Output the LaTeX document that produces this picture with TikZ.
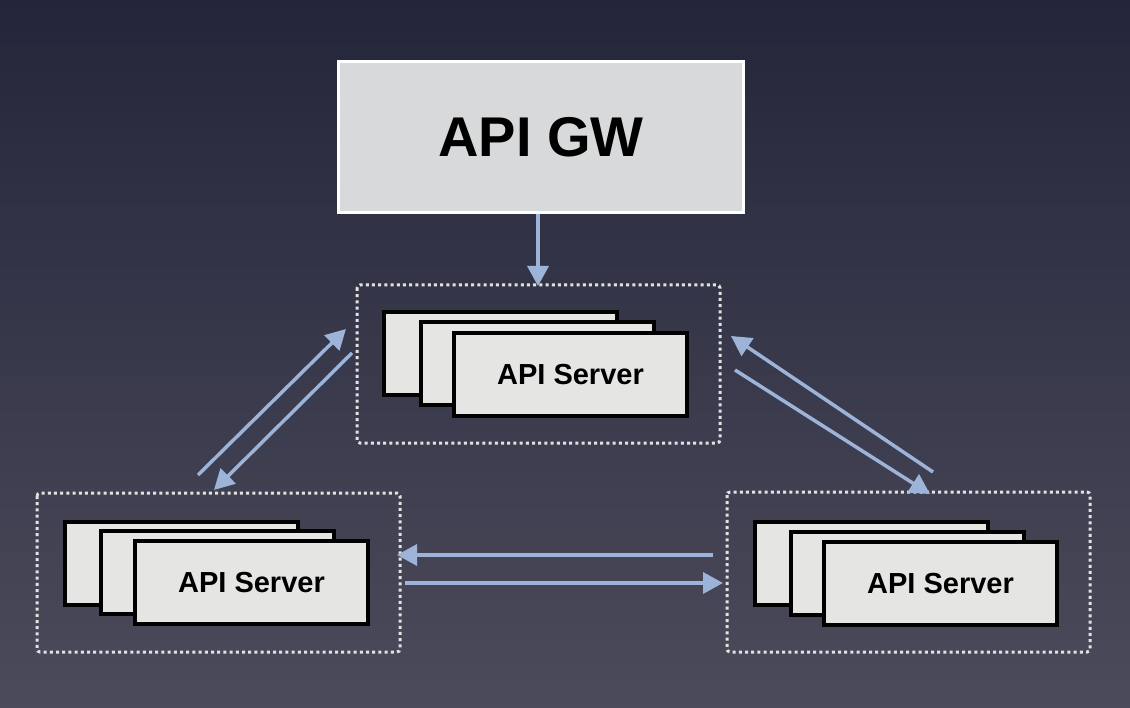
\documentclass[tikz,border=0pt]{standalone}
\usepackage{fontspec}
\setmainfont{Liberation Sans}
\usetikzlibrary{arrows.meta,shadings}
\definecolor{bgtop}{HTML}{23263A}
\definecolor{bgbot}{HTML}{4C4B5B}
\definecolor{gwfill}{HTML}{D7D9DA}
\definecolor{cardfill}{HTML}{E5E5E3}
\definecolor{arrowc}{HTML}{9DB4D8}
\definecolor{dotc}{HTML}{E2E2E2}
\tikzset{
  gwbox/.style={draw=white, line width=3pt, fill=gwfill, minimum width=405pt, minimum height=151pt, inner sep=0pt, font=\fontsize{56}{60}\selectfont\bfseries},
  card/.style={draw=black, line width=4pt, fill=cardfill, minimum width=233pt, minimum height=83pt, inner sep=0pt, font=\fontsize{29}{32}\selectfont\bfseries},
  group/.style={draw=dotc, line width=3pt, dash pattern=on 3pt off 3.2pt, rounded corners=3pt},
  flow/.style={draw=arrowc, line width=3.5pt, -{Triangle[length=20pt,width=21pt]}},
}
\begin{document}
\begin{tikzpicture}[x=1pt,y=-1pt]
\shade[top color=bgtop, bottom color=bgbot] (0,0) rectangle (1130,708);
\useasboundingbox (0,0) rectangle (1130,708);

% API gateway
\node[gwbox] (gw) at (541,137) {API GW};

% top group
\draw[group] (357,285) rectangle (720,443);
\node[card] (t1) at (500.5,354) {};
\node[card] (t2) at (537.5,364) {};
\node[card] (t3) at (570.5,374.5) {API Server};
\coordinate (tg) at (538,286);

% left group
\draw[group] (37,493) rectangle (400,652);
\node[card] (l1) at (181.5,563.5) {};
\node[card] (l2) at (217.5,572) {};
\node[card] (l3) at (251.5,582.5) {API Server};

% right group
\draw[group] (727,492) rectangle (1090,652);
\node[card] (r1) at (871.5,563.5) {};
\node[card] (r2) at (907.5,573) {};
\node[card] (r3) at (940.5,583.5) {API Server};

% connector end points
\coordinate (a1s) at (198,475);  \coordinate (a1e) at (346,329);
\coordinate (a2s) at (352,353);  \coordinate (a2e) at (214,490);
\coordinate (a3s) at (933,472);  \coordinate (a3e) at (731,336);
\coordinate (a4s) at (735,370);  \coordinate (a4e) at (930,494);
\coordinate (a5s) at (713,555);  \coordinate (a5e) at (397,555);
\coordinate (a6s) at (405,583);  \coordinate (a6e) at (723,583);

\draw[flow] (gw.south -| tg) -- (tg);
\draw[flow] (a1s) -- (a1e);
\draw[flow] (a2s) -- (a2e);
\draw[flow] (a3s) -- (a3e);
\draw[flow] (a4s) -- (a4e);
\draw[flow] (a5s) -- (a5e);
\draw[flow] (a6s) -- (a6e);
\end{tikzpicture}
\end{document}
